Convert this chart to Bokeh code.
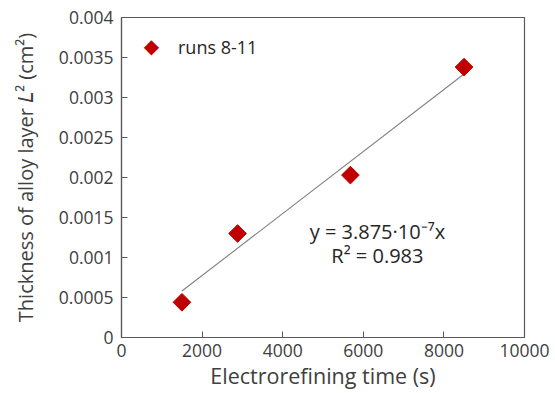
import numpy as np
from bokeh.plotting import figure
from bokeh.models import Label, Legend, LegendItem, Range1d, FixedTicker
from bokeh.embed import file_html
from bokeh.resources import INLINE

# data
time_s = [1500, 2880, 5680, 8500]
thickness_sq = [0.00044, 0.00130, 0.00203, 0.00338]
slope = 3.875e-7
fit_x = [1500, 8500]
x_ticks = [0, 2000, 4000, 6000, 8000, 10000]
y_ticks = [0, 0.0005, 0.001, 0.0015, 0.002, 0.0025, 0.003, 0.0035, 0.004]
y_tick_labels = ["0", "0.0005", "0.001", "0.0015", "0.002", "0.0025", "0.003", "0.0035", "0.004"]
series_name = "runs 8-11"
eq_text = "y = 3.875\u00b710\u207b\u2077x"
r2_text = "R\u00b2 = 0.983"

FONT = "Open Sans"
AX = "#595959"
TXT = "#404040"
RED = "#C00000"

p = figure(width=555, height=393, output_backend="svg", toolbar_location=None,
           x_range=Range1d(0, 10000), y_range=Range1d(0, 0.004),
           min_border_left=121, min_border_right=31, min_border_top=17, min_border_bottom=56)
p.xgrid.visible = False
p.ygrid.visible = False
p.outline_line_color = AX
p.outline_line_width = 1.2

fit_y = [slope * x for x in fit_x]
p.line(fit_x, fit_y, line_color="#808080", line_width=1.1)
r = p.scatter(time_s, thickness_sq, marker="square", size=12.5, angle=np.pi / 4,
              fill_color=RED, line_color=RED)

for ax in (p.xaxis[0], p.yaxis[0]):
    ax.axis_line_color = AX
    ax.axis_line_width = 1.2
    ax.major_tick_line_color = AX
    ax.major_tick_in = 6
    ax.major_tick_out = 0
    ax.minor_tick_line_color = None
    ax.major_label_text_font = FONT
    ax.major_label_text_font_size = "17.5px"
    ax.major_label_text_color = TXT
    ax.axis_label_text_font = FONT
    ax.axis_label_text_font_style = "normal"
    ax.axis_label_text_color = TXT

p.xaxis[0].axis_label_text_font_size = "21.5px"
p.yaxis[0].axis_label_text_font_size = "20px"
p.xaxis[0].ticker = FixedTicker(ticks=x_ticks)
p.yaxis[0].ticker = FixedTicker(ticks=y_ticks)
p.yaxis[0].major_label_overrides = {t: l for t, l in zip(y_ticks, y_tick_labels)}
p.xaxis[0].major_label_standoff = 6
p.yaxis[0].major_label_standoff = 8
p.xaxis.axis_label = "Electrorefining time (s)"
p.yaxis.axis_label = "Thickness of alloy layer \U0001D43F\u00b2 (cm\u00b2)"
p.xaxis[0].axis_label_standoff = 1
p.yaxis[0].axis_label_standoff = 17

legend = Legend(items=[LegendItem(label=series_name, renderers=[r])],
                location="top_left", border_line_color=None,
                background_fill_alpha=0, label_text_font=FONT,
                label_text_font_size="18px", label_text_color="#262626",
                glyph_width=24, glyph_height=8, label_standoff=15,
                label_height=22, margin=18, padding=0)
p.add_layout(legend)
# diamond symbol covering the legend glyph
p.add_layout(Label(x=744, y=0.00364, text="\u25c6", text_align="center",
                   text_baseline="middle", text_font="DejaVu Sans", text_font_size="20px",
                   text_color=RED))

p.add_layout(Label(x=6350, y=0.001325, text=eq_text, text_align="center",
                   text_baseline="middle", text_font=FONT, text_font_size="20px",
                   text_color="#262626"))
p.add_layout(Label(x=6350, y=0.001025, text=r2_text, text_align="center",
                   text_baseline="middle", text_font=FONT, text_font_size="20px",
                   text_color="#262626"))

open("out.html", "w").write(file_html(p, INLINE))
